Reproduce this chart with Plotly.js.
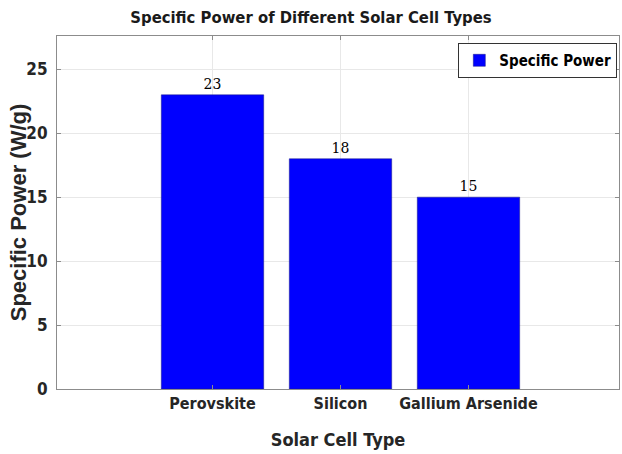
<!DOCTYPE html>
<html>
<head>
<meta charset="utf-8">
<script src="https://cdn.plot.ly/plotly-3.0.1.min.js"></script>
<style>html,body{margin:0;padding:0;background:#fff;}#chart{width:622px;height:454px;}</style>
</head>
<body>
<div id="chart"></div>
<script>
const categories = ["Perovskite", "Silicon", "Gallium Arsenide"];
const specificPower = [23, 18, 15];
const seriesName = "Specific Power";
const yTicks = [0, 5, 10, 15, 20, 25];
const yTitle = "Specific Power (W/g)";

const narrow = "'Liberation Sans Narrow', 'DejaVu Sans Condensed', 'Arial Narrow', 'Liberation Sans', Arial, sans-serif";

const trace = {
  type: "bar",
  x: categories,
  y: specificPower,
  name: seriesName,
  width: 0.8,
  marker: {color: "#0000ff", line: {color: "#1a1a80", width: 0.5}},
  text: specificPower.map(String),
  textposition: "outside",
  cliponaxis: false,
  textfont: {family: "'DejaVu Serif', 'Liberation Serif', serif", size: 14, color: "#000"},
  showlegend: true
};

const layout = {
  width: 622, height: 454,
  margin: {l: 57, r: 3, t: 36, b: 65, pad: 0},
  paper_bgcolor: "#fff", plot_bgcolor: "#fff",
  title: {text: "Specific Power of Different Solar Cell Types", font: {family: narrow, size: 16.5, weight: "bold", color: "#1a1a1a"}, x: 0.5, xanchor: "center", y: 0.963, yanchor: "middle"},
  xaxis: {
    type: "category",
    range: [-1.215, 3.176],
    showgrid: true, gridcolor: "#e8e8e8", gridwidth: 1,
    showline: true, linecolor: "#8c8c8c", linewidth: 1, mirror: "ticks",
    ticks: "inside", ticklen: 4, tickcolor: "#8c8c8c",
    tickfont: {family: narrow, size: 16, weight: "bold", color: "#262626"},
    title: {text: "Solar Cell Type", font: {family: narrow, size: 18, weight: "bold", color: "#262626"}, standoff: 21},
    zeroline: false, fixedrange: true
  },
  yaxis: {
    range: [0, 27.6],
    tickvals: yTicks,
    showgrid: true, gridcolor: "#e8e8e8", gridwidth: 1,
    showline: true, linecolor: "#8c8c8c", linewidth: 1, mirror: "ticks",
    ticks: "inside", ticklen: 4, tickcolor: "#8c8c8c",
    ticklabelstandoff: 5,
    tickfont: {family: narrow, size: 17, weight: "bold", color: "#262626"},
    zeroline: false, fixedrange: true
  },
  annotations: [{
    text: yTitle, textangle: -90,
    xref: "paper", yref: "paper", x: -0.068, y: 0.5, xanchor: "center", yanchor: "middle",
    showarrow: false,
    font: {family: "'Liberation Sans', Arial, sans-serif", size: 22, weight: "bold", color: "#262626"}
  }],
  showlegend: true,
  legend: {
    x: 0.997, xanchor: "right", y: 0.98, yanchor: "top",
    bgcolor: "#fff", bordercolor: "#333", borderwidth: 1,
    font: {family: narrow, size: 15, weight: "bold", color: "#000"},
    itemwidth: 30,
    tracegroupgap: 0
  },
  bargap: 0.2
};

Plotly.newPlot("chart", [trace], layout, {displayModeBar: false, staticPlot: true});
</script>
</body>
</html>
